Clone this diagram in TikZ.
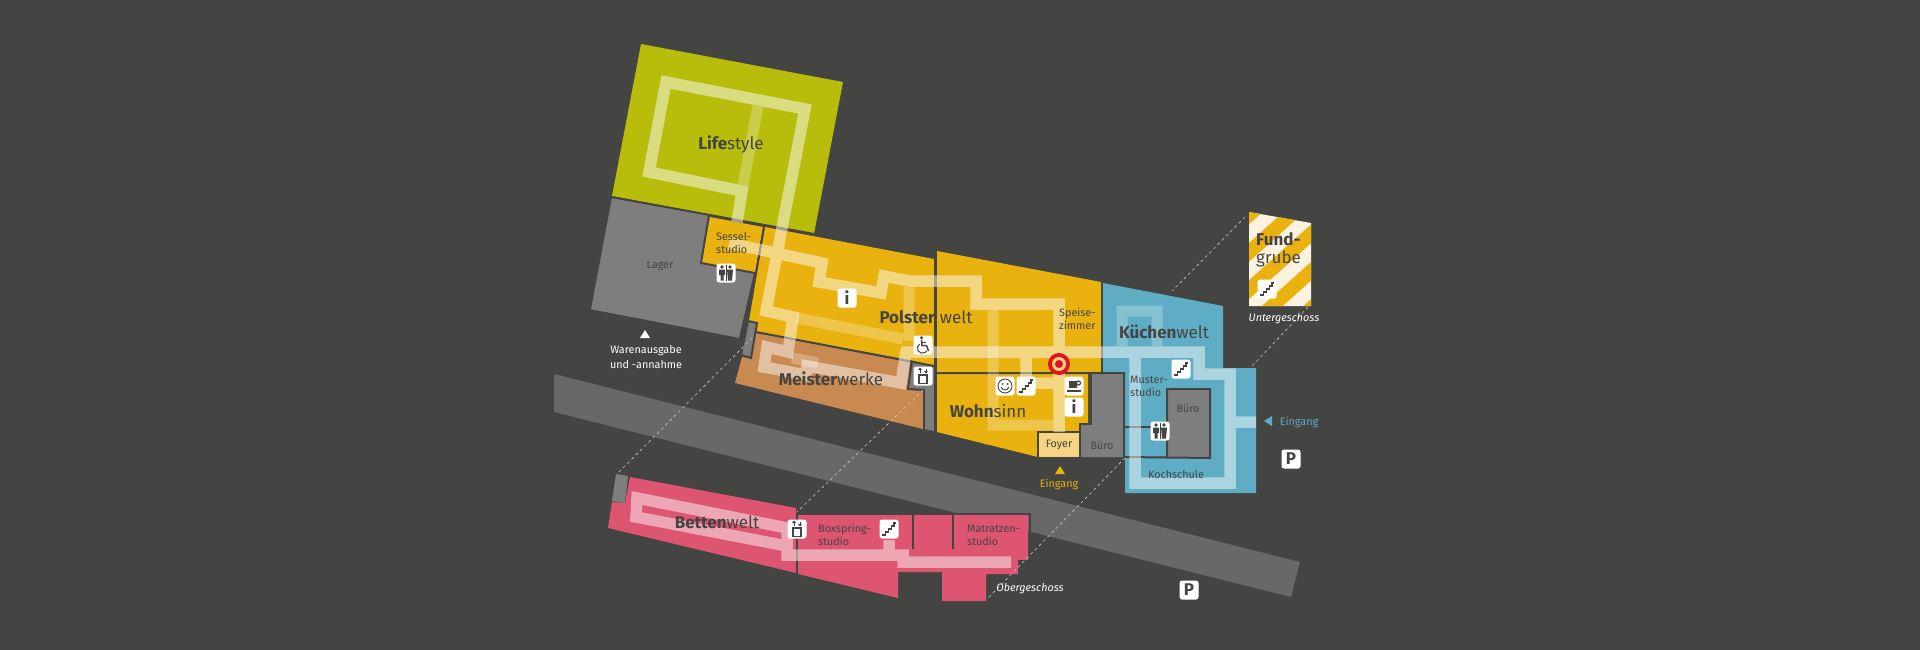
\documentclass[tikz,border=0pt]{standalone}
\usepackage{fontspec}
\setmainfont{Fira Sans}
\usetikzlibrary{positioning}
\definecolor{bgcolor}{RGB}{68, 68, 67}
\definecolor{roadcolor}{RGB}{104, 104, 104}
\definecolor{roomcolor}{RGB}{126, 126, 126}
\definecolor{limecolor}{RGB}{184, 189, 12}
\definecolor{ambercolor}{RGB}{233, 178, 15}
\definecolor{foyercolor}{RGB}{246, 212, 130}
\definecolor{clothcolor}{RGB}{200, 138, 80}
\definecolor{bluecolor}{RGB}{94, 173, 196}
\definecolor{pinkcolor}{RGB}{221, 85, 112}
\definecolor{creamcolor}{RGB}{251, 243, 224}
\definecolor{redcolor}{RGB}{226, 19, 32}
\tikzset{
    wall/.style={draw=bgcolor,line width=2},
    route/.style={draw=white,opacity=0.48,line width=11.5,line join=miter},
    sideroute/.style={draw=white,opacity=0.25,line width=11},
    guide/.style={draw=white!70!bgcolor,line width=0.6,dash pattern=on 3pt off 3pt},
    iconbox/.style={fill=white,rounded corners=2.5,minimum size=19,inner sep=0},
    small/.style={font=\fontsize{10.8}{13}\selectfont,text=bgcolor,inner sep=0,align=left},
    big/.style={font=\fontsize{17}{18}\selectfont,text=bgcolor,inner sep=0,align=left},
    note/.style={font=\fontsize{10.8}{15}\selectfont,text=white,inner sep=0,align=center},
    stairs/.pic={
        \draw[bgcolor,line width=1.4] (-7,6)--(-3.5,6)--(-3.5,3)--(-0.5,3)--(-0.5,0)--(2.5,0)--(2.5,-3)--(5,-3)--(5,-6)--(7,-6);
    },
    toilets/.pic={
        \fill[bgcolor] (-4,-6) circle (1.8) (4,-6) circle (1.8);
        \fill[bgcolor] (-7,-3.5) rectangle (-1,2) (-5.5,2) rectangle (-2.5,7.5);
        \fill[bgcolor] (1,-3.5) -- (7,-3.5) -- (6,7.5) -- (2,7.5) -- cycle;
        \draw[bgcolor,line width=1] (0,-8)--(0,8);
    },
    lift/.pic={
        \draw[bgcolor,line width=1.1] (-4,-1) rectangle (4,7.5);
        \draw[bgcolor,line width=0.8] (-3,-3)--(-3,-7) (3,-3)--(3,-7);
        \fill[bgcolor] (-5,-6)--(-3,-8.5)--(-1,-6)--cycle (1,-5)--(3,-2.5)--(5,-5)--cycle;
    },
    smile/.pic={
        \draw[bgcolor,line width=0.9] (0,0) circle (7);
        \fill[bgcolor] (-2.5,-2) circle (1) (2.5,-2) circle (1);
        \draw[bgcolor,line width=0.9] (-4,1) .. controls (-2,5) and (2,5) .. (4,1);
    },
    coffee/.pic={
        \fill[bgcolor] (-5,-5) rectangle (3,2);
        \draw[bgcolor,line width=1.2] (4.5,-3) circle (2);
        \fill[bgcolor] (-7,3.5) rectangle (7,5.5);
    },
    chair/.pic={
        \fill[bgcolor] (-1.5,-7.2) circle (1.7);
        \draw[bgcolor,line width=1.5] (-1.5,-5)--(-1,0.5)--(3.5,0.5)--(5.5,6);
        \draw[bgcolor,line width=1] (-1.5,-2.5)--(3,-2.5);
        \draw[bgcolor,line width=1] (-3.3,-1) arc[start angle=238,end angle=30,radius=5];
    },
}
\begin{document}
\begin{tikzpicture}[x=1pt,y=-1pt]
    \useasboundingbox (0,0) rectangle (1920,650);
    \fill[bgcolor] (0,0) rectangle (1920,650);
    \fill[roadcolor] (554,374) -- (1300,562) -- (1291,597) -- (554,412) -- cycle;

    \fill[limecolor] (641,44) -- (843,82) -- (814,234) -- (612,196) -- cycle;
    \fill[roomcolor] (611,197) -- (709,215) -- (755,273) -- (740,338) -- (590,309) -- cycle;
    \fill[ambercolor] (710,217) -- (763,227) -- (755,273) -- (701,263) -- cycle;
    \fill[ambercolor] (765,227) -- (934,259) -- (934,366) -- (910,360) -- (756,332) -- (748,320) -- cycle;
    \fill[clothcolor] (756,333) -- (910,360) -- (908,389) -- (924,390) -- (923,429) -- (735,383) -- (742,357) -- (751,358) -- cycle;
    \fill[roomcolor] (748,321) -- (757,323) -- (751,358) -- (741,355) -- cycle;
    \fill[roomcolor] (912,361) -- (934,366) -- (935,431) -- (924,429) -- (924,390) -- (909,388) -- cycle;
    \fill[ambercolor] (937,251) -- (1101,282) -- (1101,372) -- (937,372) -- cycle;
    \fill[ambercolor] (937,374) -- (1088,374) -- (1088,423) -- (1080,424) -- (1080,432) -- (1038,432) -- (1038,457) -- (937,432) -- cycle;
    \fill[foyercolor] (1038,432) rectangle (1079,457);
    \fill[bluecolor] (1103,283) -- (1223,306) -- (1223,368) -- (1256,368) -- (1256,493) -- (1125,493) -- (1125,372) -- (1103,372) -- cycle;
    \fill[roomcolor] (1124,373) -- (1091,373) -- (1091,424) -- (1080,424) -- (1080,457) -- (1124,457) -- cycle;
    \fill[roomcolor] (1167,389) rectangle (1210,458);

    \fill[pinkcolor] (630,477) -- (796,508) -- (796,573) -- (608,528) -- (612,502) -- (625,503) -- cycle;
    \fill[roomcolor] (616,474) -- (628,476) -- (625,503) -- (612,501) -- cycle;
    \fill[pinkcolor] (798,515) -- (1028,515) -- (1028,560) -- (1019,561) -- (1019,574) -- (986,574) -- (986,601) -- (942,601) -- (942,572) -- (898,572) -- (898,598) -- (798,574) -- cycle;

    \fill[creamcolor] (1249,212) -- (1311,223) -- (1311,306) -- (1249,306) -- cycle;
    \begin{scope}
        \clip (1249,212) -- (1311,223) -- (1311,306) -- (1249,306) -- cycle;
        \foreach \c in {205.6,243,280.3,317.7,355}
            \fill[ambercolor] (1249,\c) -- (1249,\c+18.7) -- (1311,\c+18.7-55.8) -- (1311,\c-55.8) -- cycle;
    \end{scope}

    % walls
    \draw[wall] (590,309) -- (611,197) -- (814,234);
    \draw[wall] (709,215) -- (701,263) -- (755,273) -- (740,338);
    \draw[wall] (764,227) -- (748,320);
    \draw[wall] (748,321) -- (757,323) -- (751,358) -- (741,355) -- cycle;
    \draw[wall] (756,332) -- (934,366);
    \draw[wall] (912,361) -- (908,389) -- (924,390) -- (924,429);
    \draw[wall] (935,259) -- (935,431);
    \draw[wall] (937,373) -- (1124,373) -- (1124,457) -- (1210,458) -- (1210,389) -- (1167,389) -- (1167,458);
    \draw[wall] (1091,373) -- (1091,424) -- (1080,424) -- (1080,457);
    \draw[wall] (1038,457) -- (1038,432) -- (1080,432);
    \draw[wall] (1124,427) -- (1167,427);
    \draw[wall] (1102,283) -- (1102,372);
    \draw[wall] (797,508) -- (797,574);
    \draw[wall] (797,514) -- (1030,514) -- (1030,561) -- (1019,561) -- (1019,574);
    \draw[wall] (913,515) -- (913,549);
    \draw[wall] (953,515) -- (953,549);

    \draw[guide] (752,338) -- (618,473);
    \draw[guide] (923,390) -- (797,512);
    \draw[guide] (1125,458) -- (988,598);
    \draw[guide] (1245,217) -- (1172,291);
    \draw[guide] (1308,307) -- (1252,366);

    % walkways
    \draw[sideroute] (758,106) -- (743,185)
        (797,318) -- (903,339)
        (909,287) -- (909,341)
        (993,310) -- (993,425) -- (1053,425)
        (792,358) -- (818,363)
        (1122,346) -- (1122,311) -- (1157,311) -- (1157,346);
    \draw[route] (737,222) -- (742,191) -- (649,172) -- (666,82) -- (805,109) -- (766,311) -- (793,317) -- (788,352) -- (767,347) -- (764,367) -- (806,375) -- (807,366) -- (901,383) -- (906,352) -- (1199,352) -- (1199,374) -- (1230,374) -- (1230,483) -- (1135,483) -- (1135,352)
        (729,243) -- (822,263) -- (819,282) -- (881,293) -- (884,276) -- (909,281) -- (976,281) -- (976,304) -- (1059,304) -- (1059,432)
        (1026,352) -- (1026,380)
        (1035,383) -- (1059,383)
        (1230,422) -- (1256,422)
        (787,546) -- (636,517) -- (637,498) -- (787,528) -- (787,555) -- (903,555) -- (903,562) -- (1011,562)
        (889,540) -- (889,555);

    % marker
    \node[circle,fill=redcolor,minimum size=22,inner sep=0] (marker) at (1059,364) {};
    \node[circle,fill=foyercolor,minimum size=14,inner sep=0] (markerring) at (marker) {};
    \node[circle,fill=redcolor,minimum size=8,inner sep=0] (markerdot) at (marker) {};

    % icons
    \node[iconbox] (wcSessel) at (726,273) {};
    \pic at (wcSessel) {toilets};
    \node[iconbox] (infoPolster) at (847,298) {\fontsize{17}{17}\selectfont\bfseries\textcolor{bgcolor}{i}};
    \node[iconbox] (chairPolster) at (923,345) {};
    \pic at (chairPolster) {chair};
    \node[iconbox] (liftMeister) at (923,376) {};
    \pic at (liftMeister) {lift};
    \node[iconbox] (smileWohn) at (1005,386) {};
    \pic at (smileWohn) {smile};
    \node[iconbox] (stairsWohn) at (1026,386) {};
    \pic at (stairsWohn) {stairs};
    \node[iconbox] (coffeeWohn) at (1074,386) {};
    \pic at (coffeeWohn) {coffee};
    \node[iconbox] (infoWohn) at (1074,407) {\fontsize{17}{17}\selectfont\bfseries\textcolor{bgcolor}{i}};
    \node[iconbox] (stairsKueche) at (1181,369) {};
    \pic at (stairsKueche) {stairs};
    \node[iconbox] (wcKueche) at (1160,431) {};
    \pic at (wcKueche) {toilets};
    \node[iconbox] (parkEast) at (1291,459) {\fontsize{17}{17}\selectfont\bfseries\textcolor{bgcolor}{P}};
    \node[iconbox] (parkSouth) at (1189,590) {\fontsize{17}{17}\selectfont\bfseries\textcolor{bgcolor}{P}};
    \node[iconbox] (stairsFund) at (1267,289) {};
    \pic at (stairsFund) {stairs};
    \node[iconbox] (liftBetten) at (797,529) {};
    \pic at (liftBetten) {lift};
    \node[iconbox] (stairsBetten) at (889,529) {};
    \pic at (stairsBetten) {stairs};

    % labels
    \node[big] (lifestyle) at (731,144) {\textbf{Life}style};
    \node[big] (polster) at (926,317) {\textbf{Polster}\hspace{5pt}welt};
    \node[big] (meister) at (831,379) {\textbf{Meister}werke};
    \node[big] (wohnsinn) at (988,411) {\textbf{Wohn}sinn};
    \node[big] (kuechen) at (1164,332) {\textbf{Küchen}welt};
    \node[big,anchor=west,font=\fontsize{17}{18}\selectfont] (fund) at (1256,250) {\textbf{Fund-}\\grube};
    \node[big] (betten) at (717,522) {\textbf{Betten}welt};
    \node[small,anchor=west] (sessel) at (716,243) {Sessel-\\studio};
    \node[small] (lager) at (660,266) {Lager};
    \node[small,anchor=west] (speise) at (1059,319) {Speise-\\zimmer};
    \node[small,anchor=west] (muster) at (1130,386) {Muster-\\studio};
    \node[small] (foyer) at (1059,445) {Foyer};
    \node[small] (bueroA) at (1102,445) {Büro};
    \node[small] (bueroB) at (1188,408) {Büro};
    \node[small] (kochschule) at (1176,475) {Kochschule};
    \node[small,anchor=west] (boxspring) at (818,535) {Boxspring-\\studio};
    \node[small,anchor=west] (matratzen) at (967,535) {Matratzen-\\studio};
    \node[note] (waren) at (646,357) {Warenausgabe\\und -annahme};
    \node[note,text=ambercolor] (eingangA) at (1059,484) {Eingang};
    \node[note,text=bluecolor] (eingangB) at (1299,422) {Eingang};
    \node[note,font=\fontsize{10.8}{13}\selectfont\itshape] (unter) at (1284,319) {Untergeschoss};
    \node[note,font=\fontsize{10.8}{13}\selectfont\itshape] (ober) at (1030,589) {Obergeschoss};
    \fill[white] (645,330) -- (650,338) -- (640,338) -- cycle;
    \fill[ambercolor] (1060,466) -- (1065,474) -- (1055,474) -- cycle;
    \fill[bluecolor] (1264,421) -- (1272,416) -- (1272,426) -- cycle;
\end{tikzpicture}
\end{document}
